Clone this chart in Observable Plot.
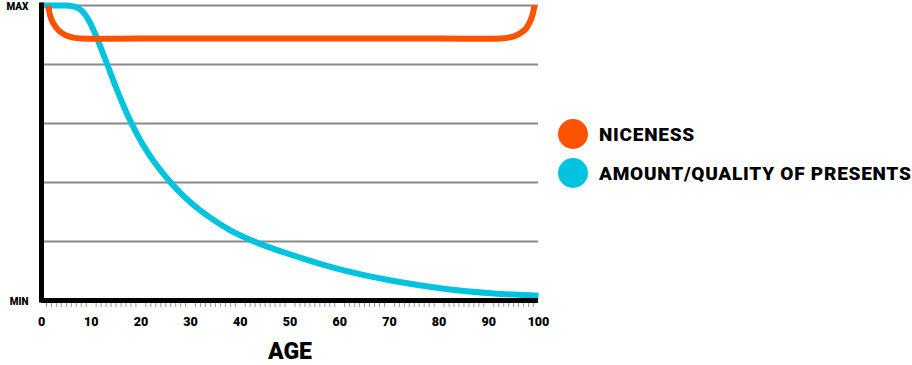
<!DOCTYPE html>
<html>
<head>
<meta charset="utf-8">
<script src="https://cdn.jsdelivr.net/npm/d3@7"></script>
<script src="https://cdn.jsdelivr.net/npm/@observablehq/plot@0.6"></script>
<style>
  html, body { margin: 0; padding: 0; background: #fff; }
  #wrap { position: relative; width: 912px; height: 365px; font-family: Roboto, "Noto Sans", sans-serif; }
  #legend { position: absolute; left: 558px; top: 119px; }
  .item { display: flex; align-items: center; height: 30px; margin-bottom: 9px; }
  .sw { width: 30px; height: 30px; border-radius: 50%; margin-right: 11px; flex: none; }
  .lab { font-weight: 900; font-size: 19px; color: #000; white-space: nowrap; letter-spacing: 0.75px; }
</style>
</head>
<body>
<div id="wrap"><div id="chart"></div><div id="legend"></div></div>
<script>
const seriesNames = ["NICENESS", "AMOUNT/QUALITY OF PRESENTS"];
const seriesColors = ["#ff5200", "#00c4df"];

// Niceness (0 = MIN, 5 = MAX)
const nicenessAge = [1.4, 1.7, 2.3, 3.1, 4.0, 5.0, 6.4, 8, 20, 40, 60, 80, 92.5, 94, 95.5, 96.5, 97.5, 98.2, 98.8, 99.2];
const nicenessVal = [5.0, 4.84, 4.71, 4.61, 4.54, 4.49, 4.455, 4.44, 4.44, 4.44, 4.44, 4.44, 4.44, 4.455, 4.49, 4.54, 4.61, 4.71, 4.84, 5.0];

// Amount/quality of presents
const presentsAge = [0, 5, 6.6, 8, 9.3, 10.6, 12, 13.5, 15, 16.5, 18, 20, 22, 24, 26, 28, 30, 34, 38, 42.8, 50.8, 60.8, 70.9, 80.9, 91, 100];
const presentsVal = [5, 5, 4.98, 4.92, 4.78, 4.56, 4.27, 3.94, 3.61, 3.3, 3.02, 2.7, 2.43, 2.2, 2.0, 1.82, 1.66, 1.4, 1.19, 1.0, 0.76, 0.51, 0.33, 0.2, 0.12, 0.08];

const xTicks = [0, 10, 20, 30, 40, 50, 60, 70, 80, 90, 100];
const minorTicks = d3.range(1, 100).filter(d => d % 10 !== 0);
const gridValues = [1, 2, 3, 4, 5];
const yLabels = [{v: 0, t: "MIN"}, {v: 5, t: "MAX"}];

const niceness = nicenessAge.map((a, i) => ({age: a, v: nicenessVal[i]}));
const presents = presentsAge.map((a, i) => ({age: a, v: presentsVal[i]}));

const chart = Plot.plot({
  width: 912,
  height: 365,
  marginLeft: 41,
  marginRight: 374,
  marginTop: 5,
  marginBottom: 65,
  style: {fontFamily: "Roboto, 'Noto Sans', sans-serif", background: "#fff", overflow: "visible"},
  x: {domain: [0, 100], axis: null},
  y: {domain: [0, 5], axis: null},
  marks: [
    Plot.ruleY(gridValues, {stroke: "#8a8a8a", strokeWidth: 2}),
    Plot.axisX({ticks: minorTicks, tickSize: 7, text: null, stroke: "#9a9a9a", strokeWidth: 1, label: null}),
    Plot.axisX({ticks: xTicks, tickSize: 0, tickPadding: 17, fontSize: 12.5, fontWeight: 900, fill: "#000", label: null}),
    Plot.text(yLabels, {frameAnchor: "left", y: "v", text: "t", textAnchor: "end", dx: -13, dy: 1, fontSize: 10, fontWeight: 900, fill: "#000", letterSpacing: 0.4}),
    Plot.line(presents, {x: "age", y: "v", stroke: seriesColors[1], strokeWidth: 6, curve: "monotone-x", strokeLinecap: "butt"}),
    Plot.line(niceness, {x: "age", y: "v", stroke: seriesColors[0], strokeWidth: 6, curve: "catmull-rom", strokeLinecap: "butt"}),
    Plot.ruleX([0], {stroke: "#000", strokeWidth: 5, strokeLinecap: "square"}),
    Plot.ruleY([0], {stroke: "#000", strokeWidth: 5}),
    Plot.text(["AGE"], {frameAnchor: "bottom", x: 50, dy: 58, fontSize: 23, fontWeight: 900, fill: "#000", letterSpacing: 1})
  ]
});
document.getElementById("chart").appendChild(chart);

const legend = document.getElementById("legend");
seriesNames.forEach((n, i) => {
  const it = document.createElement("div");
  it.className = "item";
  it.innerHTML = `<span class="sw" style="background:${seriesColors[i]}"></span><span class="lab">${n}</span>`;
  legend.appendChild(it);
});
</script>
</body>
</html>
